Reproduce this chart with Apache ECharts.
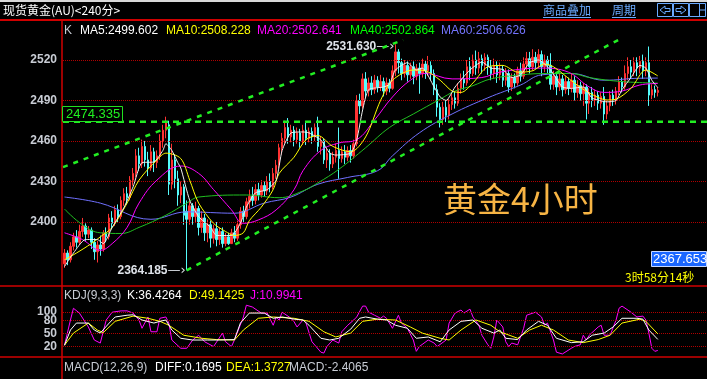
<!DOCTYPE html>
<html><head><meta charset="utf-8">
<script src="https://cdn.jsdelivr.net/npm/echarts@6/dist/echarts.min.js"></script>
<style>html,body{margin:0;padding:0;background:#000;}#c{width:707px;height:379px;}</style>
</head><body><div id="c"></div>
<script>
// ---- candle data (bar index order) ----
const openP = [2369,2377,2372,2382,2389,2385,2393,2397,2391,2394,2385,2378,2383,2380,2392,2389,2403,2399,2409,2404,
2416,2421,2418,2431,2436,2449,2443,2456,2446,2440,2452,2444,2449,2460,2468,2472,2428,2446,2432,2420,
2426,2408,2402,2412,2404,2410,2396,2403,2392,2398,2388,2395,2387,2393,2384,2389,2384,2392,2388,2398,
2408,2404,2415,2419,2416,2424,2420,2427,2423,2430,2426,2436,2442,2455,2462,2470,2463,2468,2461,2466,
2460,2468,2462,2467,2463,2470,2456,2460,2446,2451,2443,2448,2453,2447,2452,2448,2453,2449,2458,2490,
2486,2506,2497,2503,2498,2505,2500,2504,2497,2503,2499,2512,2526,2518,2510,2516,2509,2515,2508,2514,
2510,2517,2512,2516,2510,2498,2485,2476,2485,2479,2487,2492,2488,2499,2506,2503,2515,2510,2520,2514,
2521,2516,2522,2515,2510,2516,2509,2513,2505,2510,2500,2507,2503,2512,2508,2517,2521,2515,2522,2518,
2524,2515,2520,2516,2502,2508,2500,2506,2498,2504,2499,2505,2496,2501,2495,2500,2488,2496,2490,2494,
2488,2493,2480,2486,2494,2490,2497,2504,2500,2510,2515,2511,2518,2514,2519,2512,2518,2494,2498,2496];
const closeP = [2377,2372,2382,2389,2385,2393,2397,2391,2394,2385,2378,2383,2380,2392,2389,2403,2399,2409,2404,2416,
2421,2418,2431,2436,2449,2443,2456,2446,2440,2452,2444,2449,2460,2468,2474,2428,2446,2432,2420,2426,
2405,2402,2412,2404,2410,2396,2403,2392,2398,2388,2395,2387,2393,2384,2389,2384,2392,2388,2398,2408,
2404,2415,2419,2416,2424,2420,2427,2423,2430,2426,2436,2442,2455,2462,2470,2463,2468,2461,2466,2460,
2468,2462,2467,2463,2470,2456,2460,2446,2451,2443,2448,2453,2447,2452,2448,2453,2449,2458,2490,2486,
2506,2497,2503,2498,2505,2500,2504,2497,2503,2499,2512,2526,2518,2510,2516,2509,2515,2508,2514,2510,
2517,2512,2516,2510,2498,2485,2476,2485,2479,2487,2492,2488,2499,2506,2503,2515,2510,2520,2514,2521,
2516,2522,2515,2510,2516,2509,2513,2505,2510,2500,2507,2503,2512,2508,2517,2521,2515,2522,2518,2524,
2515,2520,2516,2502,2508,2500,2506,2498,2504,2499,2505,2496,2501,2495,2500,2488,2496,2490,2494,2488,
2493,2480,2486,2494,2490,2497,2504,2500,2510,2515,2511,2518,2514,2519,2512,2518,2494,2498,2496,2497.5];
const lowP = [2366,2368,2370,2379,2381,2383,2389,2386,2388,2380,2372,2370,2375,2378,2385,2387,2395,2397,2400,2402,
2412,2413,2416,2427,2433,2438,2440,2441,2434,2438,2437,2440,2446,2455,2462,2420,2424,2425,2412,2414,
2398,2364.185,2398,2398,2400,2390,2392,2386,2385,2381,2384,2382,2383,2381,2382,2383,2384,2385,2386,2395,
2400,2402,2410,2412,2413,2416,2418,2419,2420,2422,2424,2432,2440,2450,2458,2458,2459,2456,2458,2455,
2457,2457,2459,2458,2460,2452,2450,2443,2440,2438,2440,2444,2432,2444,2443,2445,2444,2447,2456,2480,
2484,2492,2493,2494,2495,2496,2497,2493,2494,2496,2498,2508,2510,2505,2507,2504,2506,2502,2505,2495,
2507,2506,2508,2505,2494,2478,2470,2472,2474,2476,2483,2484,2486,2495,2498,2501,2505,2508,2509,2510,
2510,2512,2509,2505,2506,2503,2505,2500,2501,2496,2497,2499,2501,2504,2506,2512,2510,2512,2513,2514,
2508,2511,2510,2498,2498,2494,2497,2493,2495,2494,2496,2490,2492,2490,2486,2476,2480,2485,2486,2483,
2484,2472,2476,2482,2486,2487,2494,2496,2498,2505,2506,2508,2508,2510,2506,2508,2486,2491,2492,2493];
const highP = [2380,2379,2385,2392,2394,2398,2403,2399,2397,2396,2388,2386,2390,2394,2396,2406,2408,2412,2413,2419,
2425,2426,2434,2440,2454,2455,2461,2460,2452,2457,2455,2453,2465,2472,2478,2475,2458,2450,2438,2430,
2428,2416,2416,2414,2415,2412,2408,2406,2402,2401,2398,2400,2396,2396,2392,2392,2395,2397,2401,2411,
2412,2418,2424,2426,2428,2429,2431,2430,2434,2436,2440,2446,2458,2466,2475,2477,2472,2471,2470,2469,
2472,2474,2470,2470,2473,2478,2463,2462,2455,2454,2452,2458,2470,2456,2457,2456,2457,2461,2494,2495,
2510,2511,2507,2508,2509,2508,2509,2507,2507,2506,2516,2531.63,2528,2521,2520,2519,2518,2519,2517,2518,
2521,2520,2523,2519,2513,2502,2488,2489,2490,2491,2496,2497,2503,2510,2512,2520,2522,2524,2527,2526,
2524,2525,2524,2520,2521,2519,2518,2516,2514,2513,2510,2510,2515,2518,2522,2526,2526,2528,2526,2528,
2527,2524,2523,2525,2512,2511,2510,2509,2508,2507,2510,2508,2505,2504,2503,2502,2499,2500,2498,2497,
2496,2500,2490,2497,2498,2500,2508,2507,2516,2522,2520,2522,2522,2523,2524,2522,2530,2502,2501,2500];
const slotCount = 216;
const categories = Array.from({length: slotCount}, (_, i) => String(i));

// ---- moving averages, read as [barIndex, value] ----
const ma5 = [[0,2367],[3,2377],[7,2387],[11,2387],[13,2384],[16,2396],[20,2411],[23,2426],[26,2444],[30,2444.5],[33,2453],[34,2458],[36,2453],[38,2444],[39,2440],[42,2416],[45,2404],[49,2396],[51,2390],[56,2390],[59,2399],[61,2411],[64,2421.5],[68,2424],[71,2431],[73,2453],[76,2466],[80,2466.7],[82,2466],[86,2460.7],[89,2451],[91,2449.6],[96,2451],[98,2460.7],[100,2483],[102,2498],[107,2500],[109,2502],[111,2512.6],[115,2518],[118,2512.6],[120,2514],[124,2500],[126,2492.6],[128,2490],[131,2500],[136,2512.6],[140,2518.5],[143,2514],[147,2513],[150,2507],[153,2509],[156,2518],[159,2520],[163,2512.6],[167,2500],[170,2499],[174,2500],[177,2491.8],[182,2489],[185,2490],[187,2498],[190,2507],[193,2516],[195,2514],[197,2505],[199,2499.6]];
const ma10 = [[0,2372],[4,2377],[9,2384],[12,2389],[16,2396],[21,2414],[25,2431],[31,2446],[34,2451],[39,2447],[42,2431],[45,2414],[50,2399],[54,2393],[57,2390],[60,2392],[62,2401],[66,2411],[70,2424],[72,2436],[77,2448],[81,2461],[85,2464],[90,2456],[96,2452],[101,2463],[106,2490],[110,2505],[117,2512.6],[121,2512],[126,2505],[130,2497],[133,2496],[137,2503],[142,2515],[147,2516],[152,2511],[157,2512],[161,2517],[164,2515],[171,2503],[176,2495.6],[182,2490.4],[185,2491],[190,2499],[195,2512.6],[199,2508.2]];
const ma20 = [[0,2392],[6,2387],[12,2379],[16,2384],[21,2396],[25,2414],[31,2431],[39,2441.5],[45,2436],[50,2424],[56,2409],[60,2399],[65,2401.5],[71,2409],[77,2424],[80,2438],[86,2453],[92,2458.5],[98,2461],[104,2475.6],[110,2492.6],[116,2505],[121,2510],[130,2506],[140,2507],[146,2511],[160,2514],[169,2511],[176,2500],[181,2496],[187,2497],[193,2501.5],[199,2502.6]];
const ma40 = [[0,2409.6],[6,2398],[12,2392],[19,2391.5],[25,2396],[34,2405],[41,2414],[45,2418.5],[61,2420],[72,2418],[80,2423],[85,2429],[92,2439],[101,2455],[109,2470],[117,2480],[126,2491],[131,2497],[137,2501],[143,2506],[153,2509],[162,2510],[170,2510],[176,2507],[187,2504],[199,2502.9]];
const ma60 = [[0,2418.5],[12,2414],[29,2402],[41,2407.5],[57,2406.5],[67,2414],[76,2418.5],[85,2428],[95,2433],[105,2438],[110,2449],[119,2466],[130,2480],[142,2492],[153,2501.5],[160,2509],[170,2510],[181,2505],[193,2506.5],[199,2506.6]];

// ---- KDJ, read as [barIndex, value] ----
const kdjK = [[0,23],[2,58],[4,74],[8,74],[10,58],[12,51],[15,74],[17,88],[21,92],[23,93],[26,81],[30,74],[32,78],[34,81],[36,58],[39,39],[43,35],[48,35],[52,35],[57,36],[59,74],[62,97],[67,97],[70,85],[73,88],[77,83],[80,81],[82,69],[86,39],[89,35],[92,39],[96,60],[99,85],[101,88],[105,83],[108,81],[111,69],[115,62],[118,39],[122,42],[126,31],[129,58],[133,78],[137,81],[140,62],[144,51],[146,58],[148,39],[152,36],[155,58],[159,78],[162,69],[165,39],[170,29],[174,31],[177,46],[181,51],[184,65],[187,85],[192,85],[194,83],[196,58],[199,36.4]];
const kdjD = [[0,23],[3,51],[8,74],[11,58],[13,52],[17,78],[23,90],[28,85],[32,78],[35,69],[40,46],[46,39],[51,36],[57,35],[60,58],[65,85],[70,88],[77,85],[82,78],[87,54],[91,42],[96,51],[100,78],[105,83],[111,81],[116,65],[120,51],[126,39],[129,35],[133,58],[138,81],[143,69],[146,54],[152,39],[156,58],[160,69],[164,58],[169,35],[174,29],[179,36],[183,46],[187,74],[193,83],[195,78],[199,49.1]];
const kdjJ = [[0,23],[2,81],[3,108],[5,97],[8,65],[10,35],[12,28],[14,81],[16,99],[19,102],[21,102],[23,97],[25,81],[26,62],[28,88],[29,54],[31,54],[32,85],[34,88],[35,74],[36,35],[39,16],[41,16],[43,35],[45,46],[47,31],[50,20],[53,51],[54,31],[56,20],[57,35],[60,88],[61,115],[63,111],[66,97],[68,97],[70,69],[71,88],[72,81],[73,99],[76,85],[77,77],[78,65],[80,81],[81,74],[83,31],[86,7],[87,5],[88,20],[90,35],[92,28],[93,54],[95,69],[97,81],[98,88],[100,113],[101,113],[102,99],[104,92],[106,85],[107,90],[108,85],[110,62],[112,92],[113,74],[115,62],[117,35],[118,9],[119,20],[122,35],[124,28],[125,20],[128,35],[129,74],[131,97],[133,104],[134,97],[136,106],[137,88],[139,69],[140,46],[142,24],[143,16],[144,42],[145,81],[147,65],[148,31],[149,20],[150,28],[152,24],[154,62],[155,92],[158,99],[160,88],[161,69],[162,74],[164,35],[165,7],[167,3],[170,16],[171,20],[173,24],[174,46],[175,35],[176,46],[179,65],[180,69],[181,46],[183,46],[185,81],[186,108],[187,113],[190,99],[192,88],[194,90],[195,81],[196,51],[197,16],[198,9],[199,11]];

// ---- trend lines [barIndex, price] ----
const upperTrend = [[-0.5,2440.7],[113.6,2534.8]];
const lowerTrend = [[41,2364.2],[185.7,2534.8]];
const supportLevel = 2474.335;
const priceTicks = [2400,2430,2460,2490,2520];
const kdjTicks = [20,50,80,100];
const kdjTicksLow = [20,50,80];
const kdjTicksTop = [100];
const highMark = {idx:111, price:2531.63, text:'2531.630'};
const lowMark = {idx:41, price:2364.185, text:'2364.185'};

const candleData = openP.map((o, i) => [o, closeP[i], lowP[i], highP[i]]);

const chart = echarts.init(document.getElementById('c'));
const F = 'Liberation Sans, Arial, sans-serif';
const CJK = 'Noto Sans CJK SC, sans-serif';
function txt(x, y, t, fill, font, align) {
  return {type:'text', x:x, y:y, z:100, style:{text:t, fill:fill, font:font || ('12px ' + F), textAlign: align||'left', textVerticalAlign:'middle', align: align||'left', verticalAlign:'middle'}};
}
function maSeries(name, data, color, smooth) {
  return {name:name, type:'line', xAxisIndex:0, yAxisIndex:0, data:data, symbol:'none', smooth:smooth, z:5,
    lineStyle:{color:color, width:1}, silent:true};
}
const axisLbl = (vals) => ({customValues:vals, formatter:(v) => String(v), hideOverlap:false,
  color:'#c8ccd4', fontWeight:'bold', fontSize:12, fontFamily:F, margin:6});
const plainY = (grid, mn, mx, vals) => ({type:'value', gridIndex:grid, min:mn, max:mx, position:'left',
  axisLine:{show:false}, axisTick:{show:false}, splitLine:{show:false}, axisLabel:axisLbl(vals)});
const option = {
  backgroundColor:'#000',
  animation:false,
  grid:[
    {left:63, right:0, top:20, height:265},
    {left:63, right:0, top:290, height:65.25}
  ],
  xAxis:[
    {type:'category', data:categories, gridIndex:0, boundaryGap:true, show:false},
    {type:'category', data:categories, gridIndex:1, boundaryGap:true, show:false},
    {type:'value', gridIndex:0, min:-0.5, max:slotCount-0.5, show:false}
  ],
  yAxis:[
    plainY(0, 2353.33, 2549.63, priceTicks),
    plainY(1, 0, 150, kdjTicksLow),
    plainY(1, 0, 150, kdjTicksTop)
  ],
  series:[
    {type:'line', xAxisIndex:0, yAxisIndex:0, data:[], z:1, silent:true,
      markLine:{silent:true, symbol:['none','none'], label:{show:false}, lineStyle:{color:'#b00000', type:'dotted', width:1},
        data:priceTicks.map(v => ({yAxis:v}))}},
    {type:'line', xAxisIndex:1, yAxisIndex:1, data:[], z:1, silent:true,
      markLine:{silent:true, symbol:['none','none'], label:{show:false}, lineStyle:{color:'#b00000', type:'dotted', width:1},
        data:kdjTicks.map(v => ({yAxis:v}))}},
    {type:'line', xAxisIndex:1, yAxisIndex:2, data:[], silent:true},
    {type:'candlestick', xAxisIndex:0, yAxisIndex:0, data:candleData, barWidth:2, z:3, silent:true,
      itemStyle:{color:'#ff3232', color0:'#54fcfc', borderColor:'#ff3232', borderColor0:'#54fcfc', borderWidth:1},
      markPoint:{symbol:'circle', symbolSize:0, silent:true,
        label:{show:true, position:'left', distance:1,
          rich:{n:{color:'#dfe3ea', fontWeight:'bold', fontSize:12, fontFamily:F},
                a:{color:'#dfe3ea', fontSize:13, fontFamily:'DejaVu Sans'}}},
        data:[
          {coord:[highMark.idx, highMark.price], label:{formatter:'{n|' + highMark.text + '}{a|\u2014\u203a}', offset:[0,2]}},
          {coord:[lowMark.idx, lowMark.price], label:{formatter:'{n|' + lowMark.text + '}{a|\u2014\u203a}'}}
        ]}},
    maSeries('MA60', ma60, '#7070ff', 0.4),
    maSeries('MA40', ma40, '#20c020', 0.4),
    maSeries('MA20', ma20, '#ff00ff', 0.4),
    maSeries('MA10', ma10, '#ffff00', 0.3),
    maSeries('MA5', ma5, '#f0f0f0', 0.2),
    {type:'line', xAxisIndex:2, yAxisIndex:0, data:upperTrend, symbol:'none', z:6, silent:true,
      lineStyle:{color:'#22ee22', width:2.5, type:[5,6]}},
    {type:'line', xAxisIndex:2, yAxisIndex:0, data:lowerTrend, symbol:'none', z:6, silent:true,
      lineStyle:{color:'#22ee22', width:2.5, type:[5,6]}},
    {type:'line', xAxisIndex:2, yAxisIndex:0, data:[[-0.5,supportLevel],[slotCount-0.5,supportLevel]], symbol:'none', z:6, silent:true,
      lineStyle:{color:'#22ee22', width:2.5, type:[6,5]}},
    {type:'line', xAxisIndex:1, yAxisIndex:1, data:kdjD, symbol:'none', z:5, silent:true, lineStyle:{color:'#ffff00', width:1}},
    {type:'line', xAxisIndex:1, yAxisIndex:1, data:kdjK, symbol:'none', z:6, silent:true, lineStyle:{color:'#ffffff', width:1}},
    {type:'line', xAxisIndex:1, yAxisIndex:1, data:kdjJ, symbol:'none', z:4, silent:true, lineStyle:{color:'#ff00ff', width:1}}
  ],
  graphic:[
    {type:'rect', shape:{x:0,y:0,width:707,height:2}, style:{fill:'#d8d8d8'}, z:90},
    {type:'line', shape:{x1:0,y1:20,x2:707,y2:20}, style:{stroke:'#d00000', lineWidth:2}, z:90},
    {type:'line', shape:{x1:62,y1:20,x2:62,y2:379}, style:{stroke:'#d00000', lineWidth:1.5}, z:90},
    {type:'line', shape:{x1:0,y1:286,x2:707,y2:286}, style:{stroke:'#d00000', lineWidth:1.5}, z:90},
    {type:'line', shape:{x1:0,y1:357,x2:707,y2:357}, style:{stroke:'#d00000', lineWidth:1.5}, z:90},
    txt(3, 10.5, '现货黄金(AU)<240分>', '#ffffff', '12px ' + CJK),
    txt(543, 10.5, '商品叠加', '#6aaaff', '12px ' + CJK),
    {type:'line', shape:{x1:543,y1:17.5,x2:591,y2:17.5}, style:{stroke:'#6aaaff', lineWidth:1}, z:90},
    txt(612, 10.5, '周期', '#6aaaff', '12px ' + CJK),
    {type:'line', shape:{x1:612,y1:17.5,x2:636,y2:17.5}, style:{stroke:'#6aaaff', lineWidth:1}, z:90},
    {type:'rect', shape:{x:657.5,y:3.5,width:15,height:13}, style:{fill:'none', stroke:'#6aaaff', lineWidth:1}, z:90},
    {type:'rect', shape:{x:673.5,y:3.5,width:15,height:13}, style:{fill:'none', stroke:'#6aaaff', lineWidth:1}, z:90},
    {type:'rect', shape:{x:689.5,y:3.5,width:16,height:13}, style:{fill:'none', stroke:'#6aaaff', lineWidth:1}, z:90},
    {type:'polygon', shape:{points:[[660,10],[665,6],[665,8.5],[670,8.5],[670,11.5],[665,11.5],[665,14]]}, style:{fill:'none', stroke:'#6aaaff', lineWidth:1}, z:90},
    {type:'polygon', shape:{points:[[686,10],[681,6],[681,8.5],[676,8.5],[676,11.5],[681,11.5],[681,14]]}, style:{fill:'none', stroke:'#6aaaff', lineWidth:1}, z:90},
    {type:'line', shape:{x1:699.5,y1:4,x2:699.5,y2:16}, style:{stroke:'#6aaaff', lineWidth:1}, z:90},
    {type:'line', shape:{x1:700,y1:10,x2:705,y2:10}, style:{stroke:'#6aaaff', lineWidth:1}, z:90},
    txt(64, 31, 'K', '#c8ccd4'),
    txt(80, 31, 'MA5:2499.602', '#ffffff'),
    txt(166, 31, 'MA10:2508.228', '#ffff00'),
    txt(257, 31, 'MA20:2502.641', '#ff00ff'),
    txt(350, 31, 'MA40:2502.864', '#00ff00'),
    txt(441, 31, 'MA60:2506.626', '#7474ff'),
    {type:'rect', shape:{x:62.5,y:106.5,width:60,height:15}, style:{fill:'#000', stroke:'#20e020', lineWidth:1}, z:95},
    txt(66, 114, '2474.335', '#20f020', '13px ' + F),
    txt(443, 199, '黄金4小时', '#f7b444', '34px ' + CJK),
    {type:'rect', shape:{x:651.5,y:251.5,width:55,height:15}, style:{fill:'#1a66ff', stroke:'#c8d8ff', lineWidth:1}, z:95},
    txt(653, 259, '2367.653', '#ffffff', '13px ' + F),
    txt(625, 277, '3时58分14秒', '#ffff00', '12px ' + CJK),
    txt(64, 296, 'KDJ(9,3,3)', '#c8ccd4'),
    txt(127, 296, 'K:36.4264', '#ffffff'),
    txt(189, 296, 'D:49.1425', '#ffff00'),
    txt(250, 296, 'J:10.9941', '#ff00ff'),
    txt(64, 368, 'MACD(12,26,9)', '#c8ccd4'),
    txt(155, 368, 'DIFF:0.1695', '#ffffff'),
    txt(226, 368, 'DEA:1.3727', '#ffff00'),
    txt(289, 368, 'MACD:-2.4065', '#c8ccd4')
  ]
};
chart.setOption(option);
</script>
</body></html>
